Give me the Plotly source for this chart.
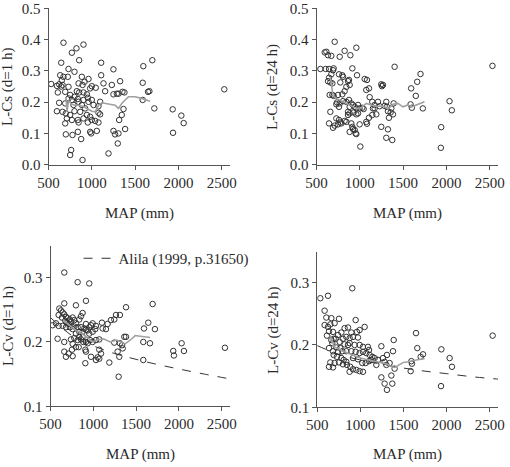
import plotly.graph_objects as go

# ---------------- data ----------------
p1_map = [531,597,623,647,662,635,673,654,723,731,
          673,647,770,823,904,854,800,731,693,608,
          623,597,662,700,693,700,762,750,777,839,
          877,893,885,893,916,962,981,1000,1046,1108,
          1108,1135,1154,1250,1327,1250,1289,1308,1377,1354,
          847,827,854,904,943,954,839,800,750,770,
          731,693,789,847,885,904,962,1000,1020,1096,
          1077,923,866,800,750,712,770,839,847,904,
          943,981,1000,954,1039,1077,1077,1096,993,981,
          1058,1193,1250,1269,1308,1300,1346,1366,1385,1316,
          1231,
          1595,1699,1588,1649,1665,1588,1722,1934,2034,2061,1938,2530]
p1_val = [0.258,0.252,0.257,0.250,0.255,0.286,0.281,0.270,0.281,0.306,
          0.390,0.326,0.358,0.372,0.384,0.334,0.297,0.249,0.233,0.231,
          0.198,0.171,0.169,0.164,0.132,0.097,0.047,0.031,0.095,0.105,
          0.082,0.015,0.281,0.255,0.265,0.274,0.244,0.251,0.246,0.326,
          0.286,0.260,0.235,0.305,0.267,0.225,0.227,0.227,0.231,0.233,
          0.260,0.235,0.231,0.231,0.225,0.214,0.210,0.217,0.223,0.207,
          0.212,0.196,0.191,0.201,0.191,0.207,0.201,0.207,0.191,0.201,
          0.187,0.180,0.169,0.171,0.159,0.148,0.143,0.143,0.135,0.148,
          0.159,0.153,0.143,0.135,0.140,0.135,0.166,0.161,0.100,0.105,
          0.108,0.036,0.108,0.097,0.100,0.068,0.159,0.178,0.114,0.143,
          0.255,
          0.315,0.334,0.262,0.233,0.235,0.207,0.180,0.177,0.157,0.133,0.102,0.241]

p2_map = [545,606,645,698,595,614,633,671,710,768,
          825,891,960,691,671,645,660,683,633,760,
          798,806,775,864,875,914,968,883,845,825,
          798,748,652,683,698,737,768,729,760,806,
          845,875,902,883,921,941,979,960,998,1029,
          1044,1056,1075,1083,1106,1114,1144,1152,1171,1191,
          1144,1106,1075,1083,660,729,760,775,825,845,
          748,710,645,691,787,864,883,929,960,979,
          864,902,921,941,883,914,998,952,960,1006,
          1248,1268,1256,1306,1314,1325,1356,1364,1391,1402,
          1383,1337,1248,1325,1306,1375,1171,1229,1287,1210,
          1701,1663,1593,1647,1586,1601,1728,2036,2063,1940,1936,2532]
p2_val = [0.306,0.306,0.306,0.308,0.359,0.361,0.350,0.348,0.393,0.345,
          0.364,0.350,0.374,0.302,0.289,0.278,0.263,0.260,0.267,0.289,
          0.286,0.281,0.263,0.267,0.271,0.308,0.286,0.255,0.249,0.235,
          0.225,0.223,0.223,0.223,0.220,0.199,0.196,0.193,0.185,0.203,
          0.201,0.207,0.196,0.185,0.191,0.185,0.191,0.180,0.180,0.182,
          0.178,0.274,0.239,0.271,0.244,0.216,0.201,0.180,0.191,0.161,
          0.159,0.150,0.137,0.131,0.169,0.148,0.143,0.135,0.140,0.137,
          0.129,0.125,0.132,0.118,0.132,0.159,0.164,0.167,0.161,0.164,
          0.169,0.132,0.114,0.111,0.105,0.121,0.129,0.100,0.098,0.058,
          0.257,0.255,0.251,0.201,0.185,0.171,0.167,0.180,0.196,0.313,
          0.161,0.150,0.121,0.113,0.086,0.079,0.180,0.187,0.188,0.201,
          0.290,0.265,0.244,0.220,0.193,0.182,0.180,0.203,0.174,0.120,0.054,0.316]

p3_map = [661,817,953,914,797,661,603,622,642,661,
          595,634,681,700,727,673,688,712,739,759,
          778,797,836,856,875,778,817,856,895,914,
          934,875,836,797,759,727,681,642,595,525,
          564,914,953,973,992,1031,1023,992,953,875,
          836,778,739,759,817,856,883,914,934,961,
          992,1031,1070,1109,1148,1101,1167,1206,1245,1265,
          1311,1382,1362,1382,1245,1311,1335,1343,1284,1304,
          1187,1070,1090,1051,1031,973,914,907,829,797,
          751,712,661,681,583,661,759,907,1070,1296,
          1693,1642,1592,1720,1584,1662,2032,2059,1934,1942,1584,2538]
p3_val = [0.308,0.293,0.291,0.264,0.257,0.260,0.252,0.249,0.246,0.243,
          0.242,0.238,0.239,0.237,0.235,0.233,0.230,0.228,0.232,0.238,
          0.234,0.229,0.235,0.240,0.245,0.224,0.223,0.223,0.221,0.219,
          0.218,0.216,0.216,0.213,0.220,0.223,0.223,0.225,0.225,0.226,
          0.229,0.228,0.223,0.226,0.229,0.225,0.220,0.216,0.213,0.208,
          0.208,0.206,0.204,0.197,0.203,0.204,0.200,0.200,0.198,0.203,
          0.200,0.203,0.204,0.221,0.220,0.230,0.228,0.234,0.235,0.242,
          0.242,0.254,0.208,0.208,0.199,0.198,0.195,0.190,0.185,0.177,
          0.168,0.188,0.182,0.176,0.172,0.177,0.185,0.188,0.192,0.192,
          0.188,0.182,0.185,0.177,0.205,0.200,0.178,0.167,0.174,0.146,
          0.259,0.230,0.221,0.220,0.200,0.198,0.198,0.186,0.186,0.179,0.172,0.191]

p4_map = [536,625,907,586,606,664,586,625,652,702,
          753,683,637,613,664,691,714,675,741,780,
          818,857,896,946,961,992,1050,973,915,876,
          838,799,760,818,857,876,934,992,1031,1089,
          1101,722,637,683,741,768,791,838,896,946,
          992,1031,1070,1108,1139,1166,1205,1244,1263,1309,
          1379,1387,1282,1340,1398,1302,1244,1282,1309,1360,
          1371,1186,1128,1101,1062,1023,992,1031,954,915,
          884,845,799,753,702,652,637,683,876,838,
          780,729,915,973,691,807,
          1646,1661,1727,1700,1592,1599,1584,1940,2036,2063,1936,2535]
p4_val = [0.275,0.279,0.291,0.255,0.244,0.243,0.232,0.229,0.233,0.235,
          0.242,0.221,0.222,0.215,0.208,0.210,0.210,0.203,0.216,0.220,
          0.227,0.228,0.220,0.240,0.221,0.224,0.229,0.212,0.213,0.211,
          0.213,0.210,0.205,0.201,0.200,0.203,0.200,0.200,0.197,0.197,
          0.192,0.196,0.195,0.190,0.189,0.195,0.190,0.190,0.190,0.189,
          0.187,0.189,0.187,0.184,0.181,0.179,0.176,0.198,0.179,0.184,
          0.190,0.208,0.173,0.171,0.162,0.168,0.148,0.138,0.128,0.151,
          0.138,0.168,0.176,0.174,0.171,0.171,0.158,0.157,0.160,0.161,
          0.165,0.168,0.169,0.172,0.171,0.172,0.165,0.164,0.157,0.173,
          0.179,0.181,0.179,0.177,0.184,0.176,
          0.219,0.195,0.185,0.181,0.174,0.170,0.158,0.193,0.179,0.165,0.134,0.215]

# moving-average (gray) lines
g1_map = [700,715,730,760,800,846,900,943,1000,1039,1077,1116,1193,1269,1308,1346,1385,1423,1500,1577,1672]
g1_val = [0.215,0.17,0.205,0.195,0.19,0.19,0.186,0.18,0.171,0.169,0.19,0.198,0.193,0.19,0.18,0.196,0.207,0.217,0.217,0.212,0.203]
g2_map = [660,675,691,729,806,883,960,1017,1075,1133,1190,1267,1325,1383,1440,1498,1556,1600,1650,1700,1747]
g2_val = [0.28,0.25,0.22,0.212,0.201,0.19,0.18,0.182,0.196,0.191,0.186,0.188,0.178,0.193,0.196,0.185,0.191,0.185,0.19,0.194,0.201]
g3_map = [650,700,800,900,1000,1041,1119,1197,1275,1372,1450,1489,1550,1625,1664]
g3_val = [0.235,0.228,0.218,0.21,0.2,0.203,0.205,0.2,0.203,0.197,0.205,0.21,0.209,0.208,0.207]
g4_map = [650,700,800,900,1000,1100,1200,1300,1350,1400,1450,1500,1553,1600,1650,1700,1746]
g4_val = [0.215,0.197,0.19,0.184,0.179,0.176,0.173,0.17,0.166,0.164,0.168,0.172,0.173,0.175,0.176,0.177,0.178]

# Alila (1999) reference curves
a_map = [500,750,1000,1250,1500,1750,2000,2300,2620]
a3_val = [0.238,0.21,0.194,0.182,0.173,0.165,0.158,0.15,0.142]
a4_val = [0.199,0.185,0.176,0.169,0.163,0.158,0.154,0.149,0.145]

x_ticks = [500, 1000, 1500, 2000, 2500]
x_title = "MAP (mm)"
y_titles = ["L-Cs (d=1 h)", "L-Cs (d=24 h)", "L-Cv (d=1 h)", "L-Cv (d=24 h)"]
legend_name = "Alila (1999, p.31650)"

# ---------------- figure ----------------
W, H = 510, 467
FONT = "Liberation Serif, Times New Roman, serif"
FS = 15
TXT = "#2a2a2a"
mk = dict(symbol="circle-open", size=5.5, color="#333333", line=dict(width=1, color="#333333"))
gray = dict(color="#a0a0a0", width=1.6)
dash = dict(color="#333333", width=1, dash="dash")

fig = go.Figure()
sets = [(p1_map, p1_val, g1_map, g1_val, None),
        (p2_map, p2_val, g2_map, g2_val, None),
        (p3_map, p3_val, g3_map, g3_val, a3_val),
        (p4_map, p4_val, g4_map, g4_val, a4_val)]
for i, (mx, my, gx, gy, av) in enumerate(sets):
    xa = "x" if i == 0 else f"x{i+1}"
    ya = "y" if i == 0 else f"y{i+1}"
    if av is not None:
        fig.add_trace(go.Scatter(x=a_map, y=av, mode="lines", line=dash, line_shape="spline",
                                 xaxis=xa, yaxis=ya, name=legend_name, showlegend=(i == 2)))
    fig.add_trace(go.Scatter(x=mx, y=my, mode="markers", marker=mk, xaxis=xa, yaxis=ya, showlegend=False))
    fig.add_trace(go.Scatter(x=gx, y=gy, mode="lines", line=gray, xaxis=xa, yaxis=ya, showlegend=False))

def px_x(a, b):
    return [a / W, b / W]

def px_y(top, bottom):
    return [1 - bottom / H, 1 - top / H]

tfont = dict(family=FONT, size=FS, color=TXT)
common = dict(showline=True, linecolor="#555555", linewidth=1, ticks="outside", ticklen=4,
              tickcolor="#555555", showgrid=False, zeroline=False, tickfont=tfont,
              automargin=False)
xdoms = [px_x(48.5, 230), px_x(316.5, 498), px_x(50.5, 230), px_x(317.2, 498)]
xranges = [[500, 2596], [500, 2596], [500, 2597], [500, 2597]]
ydoms = [px_y(8.3, 164.7), px_y(8.3, 164.7), px_y(245.5, 406.3), px_y(251.5, 407.3)]
yranges = [[0, 0.5], [0, 0.5], [0.1, 0.35], [0.1, 0.35]]
yticks = [[0, 0.1, 0.2, 0.3, 0.4, 0.5]] * 2 + [[0.1, 0.2, 0.3]] * 2

# title placement (pixel centres)
xt_pos = [(139.5, 213), (407, 213), (140, 454), (407.5, 454)]
yt_pos = [(8, 87), (273, 87), (8, 326), (273, 330)]

annotations = []
for i in range(4):
    cx, cy = xt_pos[i]
    annotations.append(dict(text=x_title, x=cx / W, y=1 - cy / H, xref="paper", yref="paper",
                            xanchor="center", yanchor="middle", showarrow=False, font=tfont))
    cx, cy = yt_pos[i]
    annotations.append(dict(text=y_titles[i], x=cx / W, y=1 - cy / H, xref="paper", yref="paper",
                            xanchor="center", yanchor="middle", showarrow=False, font=tfont,
                            textangle=-90))

layout = dict(width=W, height=H, margin=dict(l=0, r=0, t=0, b=0, autoexpand=False),
              paper_bgcolor="white", plot_bgcolor="white",
              font=tfont, annotations=annotations,
              legend=dict(x=0.154, y=1 - 242 / H, xanchor="left", yanchor="top",
                          bgcolor="rgba(0,0,0,0)", font=tfont,
                          itemwidth=30, tracegroupgap=0))
for i in range(4):
    xk = "xaxis" if i == 0 else f"xaxis{i+1}"
    yk = "yaxis" if i == 0 else f"yaxis{i+1}"
    ya = "y" if i == 0 else f"y{i+1}"
    xa = "x" if i == 0 else f"x{i+1}"
    layout[xk] = dict(common, domain=xdoms[i], range=xranges[i], anchor=ya, tickvals=x_ticks)
    layout[yk] = dict(common, domain=ydoms[i], range=yranges[i], anchor=xa,
                      tickvals=yticks[i], tickformat=".1f")
fig.update_layout(**layout)
fig.write_html("out.html")
